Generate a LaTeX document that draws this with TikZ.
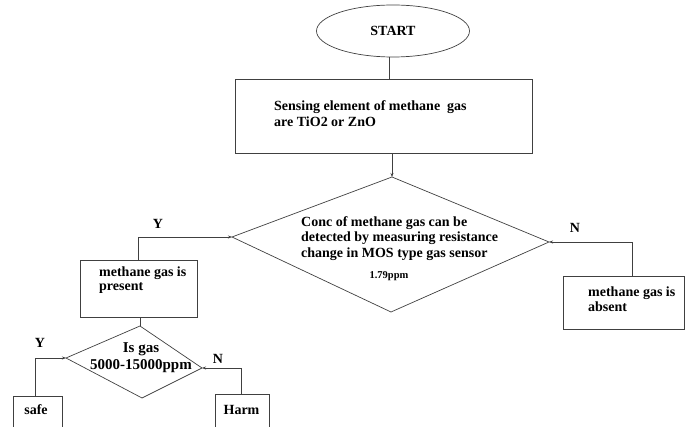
\documentclass[tikz,border=0pt]{standalone}
\usepackage{fontspec}
\setmainfont{Liberation Serif}
\usetikzlibrary{shapes.geometric,arrows.meta}
\tikzset{
  ln/.style={draw=black!75, line width=0.7pt},
  arr/.style={ln, -{Stealth[length=4pt,width=3pt]}},
  box/.style={ln, rectangle, inner sep=0pt},
  txt/.style={font=\fontsize{14}{16.5}\selectfont\bfseries, inner sep=0pt, align=left},
  lbl/.style={font=\fontsize{14}{16}\selectfont\bfseries, inner sep=0pt},
}
\begin{document}
\begin{tikzpicture}[x=1pt,y=-1pt]
\useasboundingbox (0,0) rectangle (686,427);
\clip (0,0) rectangle (686,427);
% start
\node[ln, ellipse, minimum width=153pt, minimum height=52pt, inner sep=0pt, lbl] (start) at (393,31) {START};
% sensing box
\node[box, minimum width=297pt, minimum height=74pt] (sense) at (383.5,116) {};
\node[txt, anchor=west] (senset) at (274,113.5) {Sensing element of methane\ \ gas\\are TiO2 or ZnO};
% big diamond
\coordinate (d1t) at (392,177);
\coordinate (d1l) at (232,237);
\coordinate (d1b) at (391,312);
\coordinate (d1r) at (549,242);
\draw[ln] (d1t) -- (d1r) -- (d1b) -- (d1l) -- cycle;
\node[txt, anchor=west, font=\fontsize{14}{15.5}\selectfont\bfseries] (d1text) at (301,238.5) {Conc of methane gas can be\\detected by measuring resistance\\change in MOS type gas sensor};
\node[lbl, font=\fontsize{10.5}{12}\selectfont\bfseries] (ppm) at (389,276) {1.79ppm};
% present / absent boxes
\node[box, minimum width=117pt, minimum height=57pt] (pres) at (138.5,288.5) {};
\node[txt, anchor=west, font=\fontsize{14}{14.5}\selectfont\bfseries] (prest) at (99,280) {methane gas is\\present};
\node[box, minimum width=121pt, minimum height=53pt] (abs) at (623.5,302.5) {};
\node[txt, anchor=west, font=\fontsize{14}{15}\selectfont\bfseries] (abst) at (588,299.5) {methane gas is\\absent};
% small diamond
\coordinate (d2t) at (140,326);
\coordinate (d2l) at (66,358);
\coordinate (d2b) at (142,398);
\coordinate (d2r) at (202,368);
\draw[ln] (d2t) -- (d2r) -- (d2b) -- (d2l) -- cycle;
\node[lbl, align=center, font=\fontsize{15}{16.5}\selectfont\bfseries] (d2text) at (141,357.5) {Is gas\\5000-15000ppm};
% safe / harm
\node[box, minimum width=49pt, minimum height=40pt] (safe) at (37.5,416) {};
\node[lbl] (safet) at (36,410) {safe};
\node[box, minimum width=54pt, minimum height=42pt] (harm) at (242,415) {};
\node[lbl] (harmt) at (241.5,410) {Harm};
% connectors
\coordinate (yb) at (138,237);
\coordinate (nb) at (632,242);
\coordinate (ys) at (35,358);
\coordinate (ns) at (241,368);
\draw[ln] (start.south -| 389,0) -- (sense.north -| 389,0);
\draw[arr] (sense.south -| d1t) -- (d1t);
\draw[arr] (pres.north -| yb) -- (yb) -- (d1l);
\draw[arr] (abs.north -| nb) -- (nb) -- (d1r);
\draw[ln] (pres.south -| d2t) -- (d2t);
\draw[arr] (safe.north -| ys) -- (ys) -- (d2l);
\draw[arr] (harm.north -| ns) -- (ns) -- (d2r);
% labels
\node[lbl] (y1) at (158,224) {Y};
\node[lbl] (n1) at (575,228) {N};
\node[lbl] (y2) at (40,343) {Y};
\node[lbl] (n2) at (218,359) {N};
\end{tikzpicture}
\end{document}
